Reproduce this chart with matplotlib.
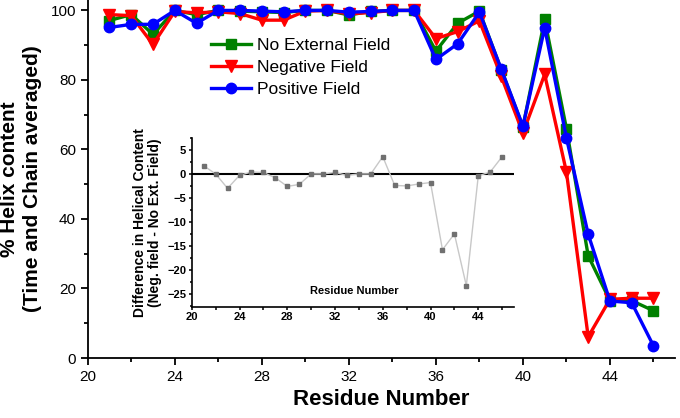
import matplotlib
matplotlib.use("Agg")
import matplotlib.pyplot as plt
from matplotlib.ticker import MultipleLocator

plt.rcParams['font.family'] = ['Liberation Sans', 'DejaVu Sans']

residues = list(range(21, 47))
no_field = [97.1, 98.8, 93.1, 100.0, 98.8, 100.0, 99.8, 99.6, 99.4, 100.0, 100.0, 98.7, 99.7,
            100.0, 100.0, 88.3, 96.3, 99.8, 83.0, 66.5, 97.4, 66.0, 29.4, 16.5, 16.5, 13.6]
neg_field = [98.8, 98.5, 90.2, 99.7, 99.3, 99.6, 99.1, 97.2, 97.2, 99.8, 100.0, 99.0, 99.4,
             100.0, 100.0, 91.9, 93.9, 97.0, 81.1, 64.7, 81.6, 53.5, 6.1, 16.9, 17.2, 17.2]
pos_field = [95.1, 96.0, 96.0, 100.0, 96.3, 100.0, 100.0, 99.8, 99.6, 100.0, 100.0, 99.5, 99.7,
             100.0, 100.0, 85.9, 90.4, 99.5, 83.2, 66.7, 95.0, 63.3, 35.6, 16.4, 15.9, 3.5]
diff = [1.7, 0.0, -3.0, -0.3, 0.4, 0.3, -0.8, -2.6, -2.2, 0.0, 0.0, 0.3, -0.3,
        0.0, 0.0, 3.6, -2.4, -2.5, -2.1, -1.8, -15.8, -12.5, -23.3, -0.4, 0.4, 3.6]

fig = plt.figure(figsize=(6.8, 4.18), dpi=100)
ax = fig.add_axes([0.129, 0.1435, 0.864, 0.8565])

lw = 2.4
ax.plot(residues, no_field, color='#008000', marker='s', ms=6.5, lw=lw, label='No External Field')
ax.plot(residues, neg_field, color='#ff0000', marker='v', ms=8, lw=lw, label='Negative Field')
ax.plot(residues, pos_field, color='#0000ff', marker='o', ms=7.5, lw=lw, label='Positive Field')

ax.set_xlim(20, 47)
ax.set_ylim(0, 103)
ax.spines['top'].set_visible(False)
ax.spines['right'].set_visible(False)
for s in ['left', 'bottom']:
    ax.spines[s].set_linewidth(1.3)
ax.xaxis.set_major_locator(MultipleLocator(4))
ax.xaxis.set_minor_locator(MultipleLocator(2))
ax.yaxis.set_major_locator(MultipleLocator(20))
ax.yaxis.set_minor_locator(MultipleLocator(10))
ax.tick_params(which='major', direction='out', length=5, width=1.3, labelsize=11)
ax.tick_params(which='minor', direction='out', length=3, width=1.3)
ax.set_xlabel('Residue Number', fontsize=16, fontweight='bold', labelpad=4)
ax.set_ylabel('% Helix content\n(Time and Chain averaged)', fontsize=15, fontweight='bold',
              labelpad=6, linespacing=1.3)

leg = ax.legend(loc='upper left', bbox_to_anchor=(0.311, 0.909), bbox_transform=fig.transFigure,
                frameon=False, fontsize=12.5, handlelength=2.3, handletextpad=0.3,
                labelspacing=0.38, numpoints=1, borderaxespad=0, borderpad=0)

# inset
ins = fig.add_axes([0.282, 0.266, 0.474, 0.404])
ins.plot(residues, diff, color='#c8c8c8', lw=1.0, marker='s', ms=3.2,
         mfc='#707070', mec='#707070', zorder=3)
ins.axhline(0, color='black', lw=1.5, zorder=2)
ins.set_xlim(20, 47)
ins.set_ylim(-27.7, 7.5)
ins.patch.set_alpha(0)
ins.spines['top'].set_visible(False)
ins.spines['right'].set_visible(False)
for s in ['left', 'bottom']:
    ins.spines[s].set_linewidth(1.2)
ins.xaxis.set_major_locator(MultipleLocator(4))
ins.xaxis.set_minor_locator(MultipleLocator(2))
ins.yaxis.set_major_locator(MultipleLocator(5))
ins.yaxis.set_minor_locator(MultipleLocator(2.5))
ins.tick_params(which='major', direction='out', length=2.5, width=1.1, labelsize=8, pad=1.5)
ins.tick_params(which='minor', direction='out', length=1.8, width=1.1)
for lab in ins.get_xticklabels() + ins.get_yticklabels():
    lab.set_fontweight('bold')
ins.text(33.6, -24.5, 'Residue Number', fontsize=8, fontweight='bold', ha='center', va='center')
ins.set_ylabel('Difference in Helical Content\n(Neg. field - No Ext. Field)', fontsize=10,
               fontweight='bold', labelpad=4, linespacing=1.1)

fig.savefig('out.png', dpi=100)
